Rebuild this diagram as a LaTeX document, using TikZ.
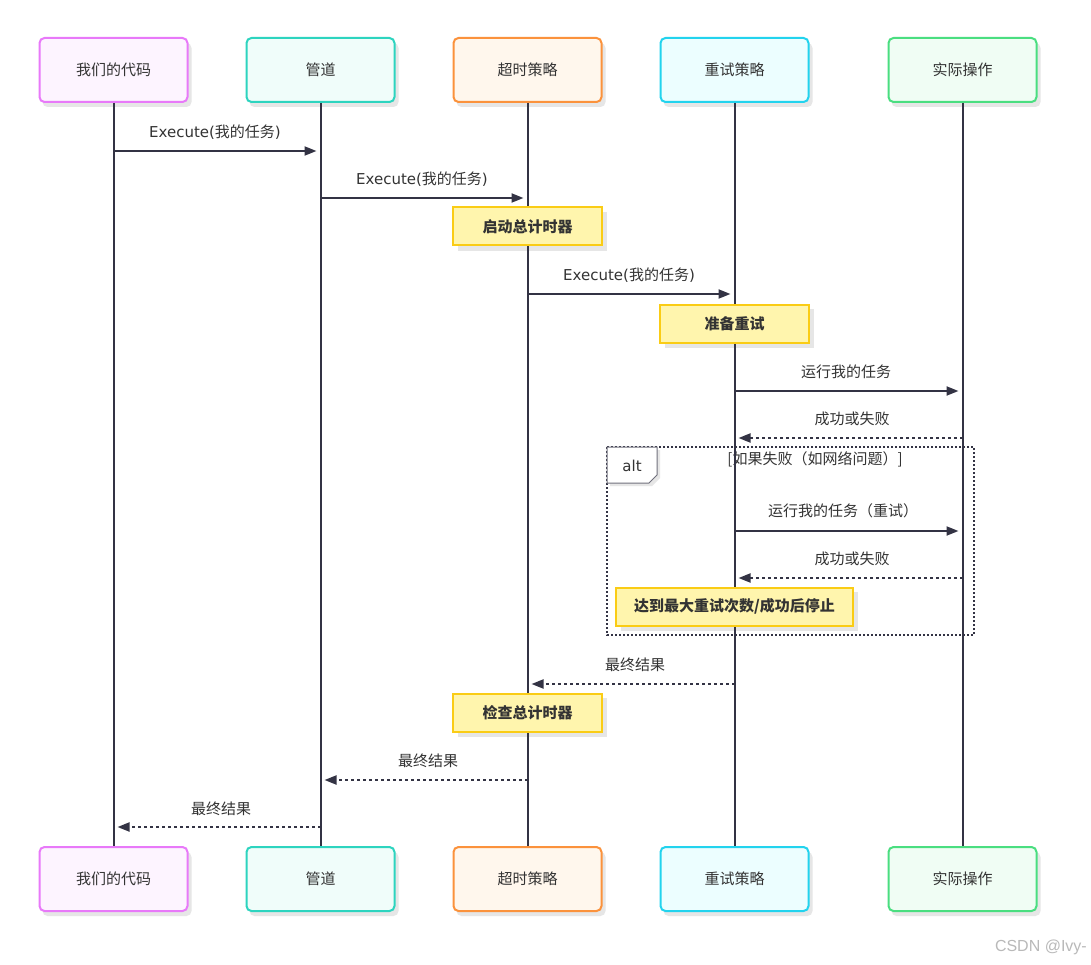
\documentclass[tikz,border=0pt]{standalone}
\usepackage{fontspec}
\setmainfont{Noto Sans CJK SC}
\newfontfamily\wmfont{Liberation Sans}
\newfontfamily\lat{DejaVu Sans}
\usetikzlibrary{arrows.meta,calc}
\definecolor{ink}{HTML}{333344}
\definecolor{txt}{HTML}{333333}
\definecolor{pinkB}{HTML}{E879F9}\definecolor{pinkF}{HTML}{FDF4FF}
\definecolor{tealB}{HTML}{2DD4BF}\definecolor{tealF}{HTML}{F0FDFA}
\definecolor{oranB}{HTML}{FB923C}\definecolor{oranF}{HTML}{FFF7ED}
\definecolor{cyanB}{HTML}{22D3EE}\definecolor{cyanF}{HTML}{ECFEFF}
\definecolor{grnB}{HTML}{4ADE80}\definecolor{grnF}{HTML}{F0FDF4}
\definecolor{noteF}{HTML}{FFF5AD}\definecolor{noteB}{HTML}{FACC15}
\definecolor{shad}{HTML}{E6E6E6}
\tikzset{
  x=1pt,y=-1pt,
  part/.style={draw,line width=2pt,rounded corners=5pt,minimum width=148pt,minimum height=64pt,
    text=txt,font=\fontsize{15}{18}\selectfont},
  notebox/.style={draw=noteB,fill=noteF,line width=2pt,minimum height=38pt,text=txt,
    font=\fontsize{15}{18}\selectfont\bfseries},
  life/.style={draw=ink,line width=2pt},
  msg/.style={draw=ink,line width=2pt,-{Triangle[length=12pt,width=9pt]},shorten >=4pt},
  ret/.style={draw=ink,line width=2pt,dash pattern=on 3pt off 3pt,-{Triangle[length=12pt,width=9pt]},shorten >=4pt},
  lbl/.style={text=txt,font=\fontsize{15}{18}\selectfont,inner sep=0pt},
}
\newcommand\execlbl{{\lat Execute(}我的任务{\lat )}}
\begin{document}
\begin{tikzpicture}
\useasboundingbox (0,0) rectangle (1091,965);
\fill[white] (0,0) rectangle (1091,965);
% shadows
\foreach \x in {113.5,320.5,527.5,734.5,962.5}{
  \fill[shad,rounded corners=5pt] (\x-71,43) rectangle (\x+78,107);
  \fill[shad,rounded corners=5pt] (\x-71,852) rectangle (\x+78,916);
}
\fill[shad] (458,212) rectangle (607,251);
\fill[shad] (665,309) rectangle (814,348);
\fill[shad] (621,592) rectangle (858,631);
\fill[shad] (458,698) rectangle (607,737);
% alt frame (behind lifelines)
\draw[ink,line width=1.6pt,dash pattern=on 2pt off 2pt] (607,447) rectangle (974,635);
\fill[shad] (610,450) -- (660,450) -- (660,478) -- (652,486) -- (610,486) -- cycle;
\draw[ink!70,fill=white,line width=1pt] (607,447) -- (657,447) -- (657,475) -- (649,483) -- (607,483) -- cycle;
\node[lbl,font=\lat\fontsize{15}{18}\selectfont] (alt) at (632,466) {alt};
\node[lbl] (cond) at (815,459) {[如果失败（如网络问题）]};
% participants
\foreach \n/\x/\b/\f/\t in {p1/113.5/pinkB/pinkF/我们的代码,p2/320.5/tealB/tealF/管道,p3/527.5/oranB/oranF/超时策略,p4/734.5/cyanB/cyanF/重试策略,p5/962.5/grnB/grnF/实际操作}{
  \node[part,draw=\b,fill=\f] (\n) at (\x,70) {\t};
  \node[part,draw=\b,fill=\f] (\n b) at (\x,879) {\t};
}
\foreach \n in {p1,p2,p3,p4,p5}{\draw[life] (\n.south) -- (\n b.north);}
% messages
\path (p1.south) ++(0,48) coordinate (a1); \path (p2.south) ++(0,48) coordinate (b1);
\draw[msg] (a1) -- (b1);
\node[lbl] (l1) at (215,132) {\execlbl};
\path (p2.south) ++(0,95) coordinate (a2); \path (p3.south) ++(0,95) coordinate (b2);
\draw[msg] (a2) -- (b2);
\node[lbl] (l2) at (422,179) {\execlbl};
\node[notebox,minimum width=149pt] (n1) at (527.5,226.5) {启动总计时器};
\path (p3.south) ++(0,191) coordinate (a3); \path (p4.south) ++(0,191) coordinate (b3);
\draw[msg] (a3) -- (b3);
\node[lbl] (l3) at (629,275) {\execlbl};
\node[notebox,minimum width=149pt] (n2) at (734.5,323.5) {准备重试};
\path (p4.south) ++(0,288) coordinate (a4); \path (p5.south) ++(0,288) coordinate (b4);
\draw[msg] (a4) -- (b4);
\node[lbl] (l4) at (846,372) {运行我的任务};
\path (p5.south) ++(0,335) coordinate (a5); \path (p4.south) ++(0,335) coordinate (b5);
\draw[ret] (a5) -- (b5);
\node[lbl] (l5) at (852,419) {成功或失败};
\path (p4.south) ++(0,428) coordinate (a6); \path (p5.south) ++(0,428) coordinate (b6);
\draw[msg] (a6) -- (b6);
\node[lbl] (l6) at (843,511) {运行我的任务（重试）};
\path (p5.south) ++(0,475) coordinate (a7); \path (p4.south) ++(0,475) coordinate (b7);
\draw[ret] (a7) -- (b7);
\node[lbl] (l7) at (852,559) {成功或失败};
\node[notebox,minimum width=237pt] (n3) at (734.5,606.5) {达到最大重试次数/成功后停止};
\path (p4.south) ++(0,581) coordinate (a8); \path (p3.south) ++(0,581) coordinate (b8);
\draw[ret] (a8) -- (b8);
\node[lbl] (l8) at (635,665) {最终结果};
\node[notebox,minimum width=149pt] (n4) at (527.5,712.5) {检查总计时器};
\path (p3.south) ++(0,677) coordinate (a9); \path (p2.south) ++(0,677) coordinate (b9);
\draw[ret] (a9) -- (b9);
\node[lbl] (l9) at (428,761) {最终结果};
\path (p2.south) ++(0,724) coordinate (a10); \path (p1.south) ++(0,724) coordinate (b10);
\draw[ret] (a10) -- (b10);
\node[lbl] (l10) at (221,809) {最终结果};
% watermark
\node[anchor=east,inner sep=0pt,text=gray!55,font=\wmfont\fontsize{16}{18}\selectfont] (wm) at (1087,947) {CSDN @Ivy-};
\end{tikzpicture}
\end{document}
